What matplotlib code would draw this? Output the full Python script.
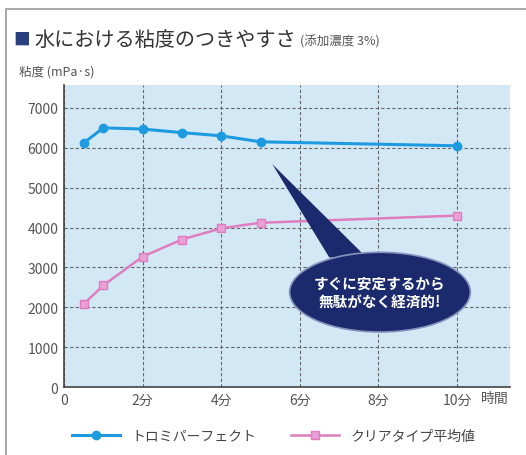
import matplotlib.pyplot as plt
from matplotlib.patches import Ellipse, Polygon, Rectangle
from matplotlib.transforms import blended_transform_factory

plt.rcParams['font.family'] = ['Noto Sans CJK JP', 'DejaVu Sans']

# données
minutes = [0.5, 1, 2, 3, 4, 5, 10]
toromi = [6120, 6500, 6470, 6380, 6300, 6150, 6050]
clear_moy = [2080, 2550, 3270, 3700, 3980, 4120, 4300]
xticks = [0, 2, 4, 6, 8, 10]
xlabels = ['0', '2分', '4分', '6分', '8分', '10分']
yticks = [0, 1000, 2000, 3000, 4000, 5000, 6000, 7000]

fig = plt.figure(figsize=(5.26, 4.56), dpi=100)
fig.patches.append(Rectangle((0.012, -0.01), 1.0, 0.988, transform=fig.transFigure,
                             fill=False, edgecolor='#9a9a9a', linewidth=1.2))

ax = fig.add_axes([0.1217, 0.149, 0.848, 0.662])
ax.set_facecolor('#d3e8f5')
ax.plot(minutes, toromi, color='#1e9be0', marker='o', markersize=6, linewidth=2.2,
        label='トロミパーフェクト', zorder=3)
ax.plot(minutes, clear_moy, color='#e07cc0', marker='s', markersize=5.5, linewidth=1.8,
        markerfacecolor='#eaa0d4', label='クリアタイプ平均値', zorder=3)

ax.set_xlim(0, 11.35)
ax.set_ylim(0, 7570)
ax.set_xticks(xticks)
ax.set_xticklabels(xlabels)
ax.set_yticks(yticks)
ax.tick_params(length=0, labelsize=10, colors='#555555', pad=4)
ax.grid(True, linestyle=(0, (3, 2)), color='#666666', linewidth=0.8)
ax.set_axisbelow(True)
for s in ['top', 'right']:
    ax.spines[s].set_visible(False)
for s in ['left', 'bottom']:
    ax.spines[s].set_color('#444444')
    ax.spines[s].set_linewidth(1.2)

trans = blended_transform_factory(ax.transData, ax.transAxes)
ax.text(10.97, -0.012, '時間', transform=trans, ha='center', va='top',
        fontsize=10, color='#555555')

# bulle
ax.add_patch(Polygon([(5.3, 5590), (6.75, 3250), (7.75, 3200)], closed=True,
                     facecolor='#1a2a6c', edgecolor='none', zorder=4))
ax.add_patch(Ellipse((8.04, 2380), 4.6, 2000, facecolor='#1a2a6c',
                     edgecolor='#8894c0', linewidth=1.2, zorder=4))
ax.text(8.04, 2380, 'すぐに安定するから\n無駄がなく経済的!', ha='center', va='center',
        color='white', fontsize=10.5, fontweight='bold', linespacing=1.2, zorder=5)

fig.text(0.026, 0.912, '■', fontsize=12, color='#2a3f7e', va='center')
fig.text(0.066, 0.912, '水における粘度のつきやすさ', fontsize=14.5, color='#333333', va='center')
fig.text(0.57, 0.907, '(添加濃度 3%)', fontsize=9, color='#555555', va='center')
fig.text(0.036, 0.842, '粘度 (mPa·s)', fontsize=9, color='#555555', va='center')

fig.legend(loc='lower center', bbox_to_anchor=(0.52, 0.0), ncol=2, frameon=False,
           fontsize=10, handlelength=3.5, columnspacing=2.5,
           labelcolor='#444444')

fig.savefig('out.png', dpi=100)
